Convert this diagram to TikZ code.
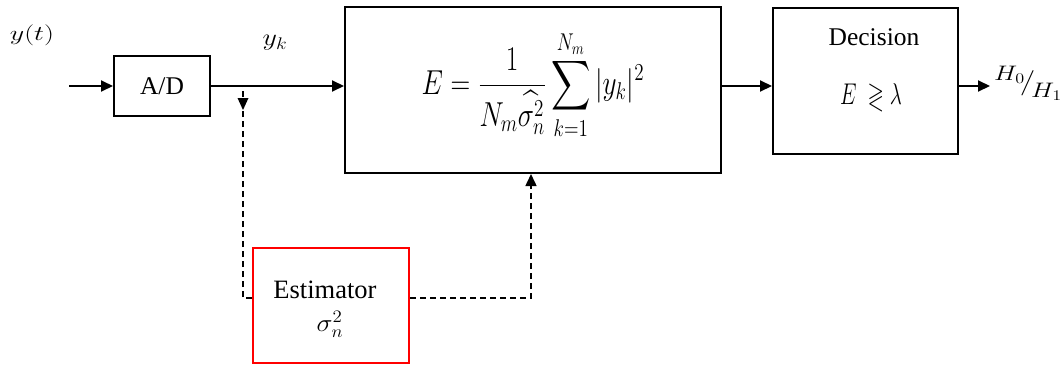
\RequirePackage{fix-cm}
\documentclass[tikz,border=0pt]{standalone}
\usepackage{amsmath,amssymb,graphicx}
\usepackage{fontspec}
\setmainfont{Liberation Serif}
\usetikzlibrary{arrows.meta}
\begin{document}
\begin{tikzpicture}[x=1pt,y=-1pt,
  blk/.style={draw, line width=2pt, inner sep=0pt, align=center},
  lbl/.style={inner sep=0pt, font=\fontsize{20}{24}\selectfont},
  txt/.style={inner sep=0pt, font=\fontsize{25.5}{28}\selectfont},
  conn/.style={line width=2pt, -{Triangle[length=12pt,width=11pt]}},
  dconn/.style={line width=1.5pt, dash pattern=on 6pt off 4pt, -{Triangle[length=12pt,width=11pt]}}]
\useasboundingbox (0,0) rectangle (1063,367);
\node[blk, minimum width=96pt, minimum height=60pt, font=\fontsize{25.5}{28}\selectfont] (AD) at (162,86) {A/D};
\node[blk, minimum width=376pt, minimum height=166pt] (E) at (533,90) {};
\node[lbl, font=\fontsize{21}{24}\selectfont] (F) at (533,85) {\scalebox{1.3}[1.65]{$\displaystyle E=\frac{1}{N_m\widehat{\sigma_n^2}}\sum_{k=1}^{N_m}|y_k|^2$}};
\node[blk, minimum width=185pt, minimum height=146pt] (Dec) at (865.5,81) {};
\node[txt] (DecT) at (874,37) {Decision};
\node[lbl] (DecF) at (871,97) {\scalebox{1.05}[1.5]{$E\ \gtrless\lambda$}};
\node[blk, draw=red, minimum width=156pt, minimum height=115pt] (Est) at (331,305.5) {};
\node[txt, font=\fontsize{26.5}{28}\selectfont] (EstT) at (325,290) {Estimator};
\node[lbl] (EstS) at (330,324) {\scalebox{1.35}[1.25]{$\sigma_n^2$}};
\node[lbl] (yt) at (32,35) {\scalebox{1.4}[1.05]{$y(t)$}};
\node[lbl] (yk) at (275,43) {\scalebox{1.4}[1.2]{$y_k$}};
\node[lbl, anchor=west, inner sep=0pt] (H) at (994,83) {\scalebox{1.3}[1.05]{$\raisebox{8pt}{$H_0$}\!\big/\!\raisebox{-8pt}{$H_1$}$}};
\coordinate (in) at (69,86);
\coordinate (out) at (990,86);
\coordinate (tap) at (243,98);
\coordinate (up) at (531,298);
\draw[conn] (in) -- (AD.west);
\draw[conn] (AD.east) -- (AD.east -| E.west);
\draw[conn] (E.east |- AD.east) -- (Dec.west |- AD.east);
\draw[conn] (Dec.east |- AD.east) -- (out);
\draw[dconn] (Est.east |- up) -- (up) -- (up |- E.south);
\draw[line width=1.5pt, dash pattern=on 6pt off 4pt] (Est.west |- up) -- (tap |- up) -- ([yshift=12pt]tap);
\fill (tap) ++(-5.5,0) -- ++(11,0) -- ++(-5.5,12) -- cycle;
\end{tikzpicture}
\end{document}
